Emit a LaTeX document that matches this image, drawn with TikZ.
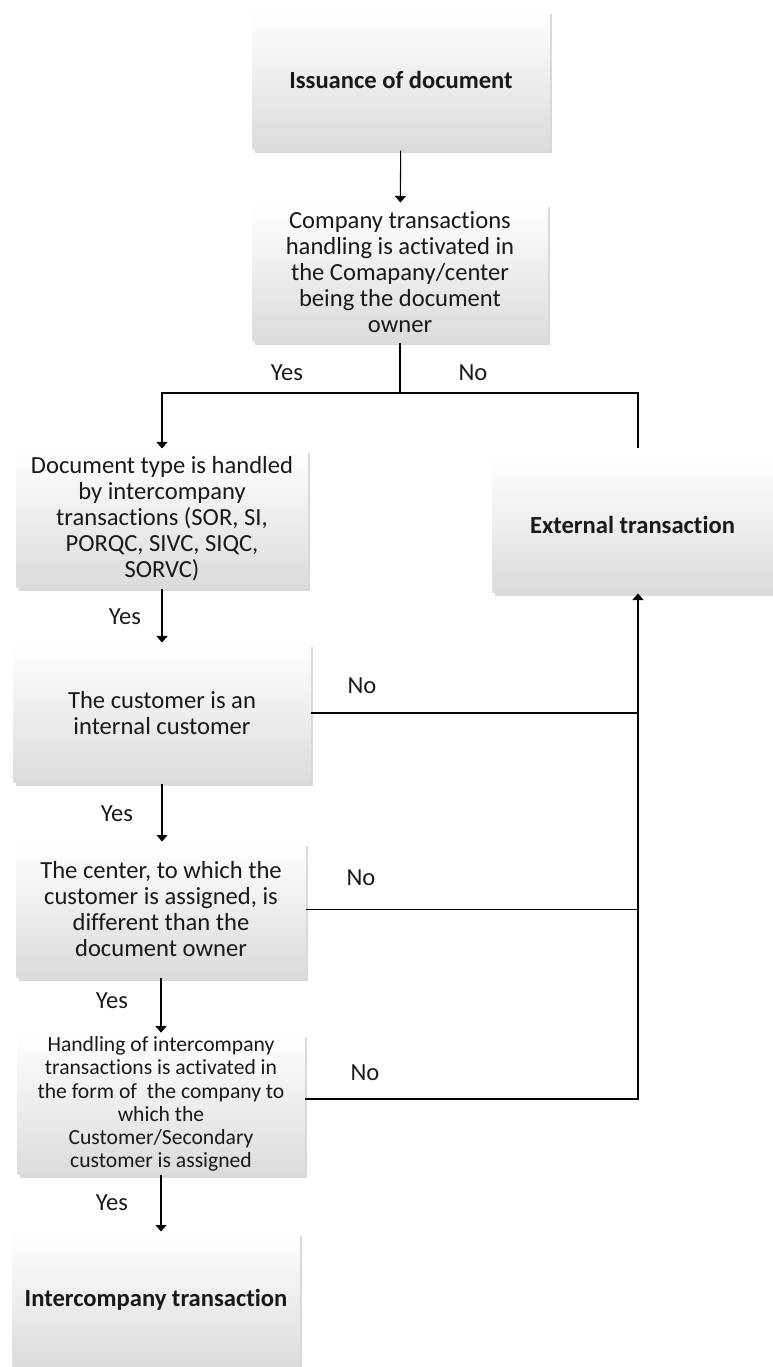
\documentclass[tikz,border=0pt]{standalone}
\usepackage{fontspec}
\setmainfont{Carlito}[Ligatures=NoCommon]
\usetikzlibrary{arrows.meta,shadows}
\begin{document}
\begin{tikzpicture}[x=0.02cm,y=-0.02cm,
    box/.style={top color=white, middle color=white, bottom color=black!14,
      drop shadow={shadow xshift=0.05cm, shadow yshift=-0.07cm, opacity=0.3},
      align=center, inner sep=2pt, text=black!90,
      font=\fontsize{14}{14.8}\selectfont},
    smallbox/.style={box, font=\fontsize{12.3}{13.2}\selectfont},
    lbl/.style={text=black!90, font=\fontsize{14}{14.8}\selectfont},
    arr/.style={-{Triangle[width=0.22cm,length=0.13cm]}},
    line width=0.6pt]
  \useasboundingbox (0,0) rectangle (773,1367);
  % top column
  \node[box, minimum width=5.94cm, minimum height=2.8cm] (issue) at (401,80)
    {\textbf{Issuance of document}};
  \node[box, minimum width=5.9cm, minimum height=2.78cm] (ownerchk) at (400,272.5)
    {Company transactions\\handling is activated in\\the Comapany/center\\being the document\\owner};
  % right side
  \node[box, minimum width=5.62cm, minimum height=2.72cm] (external) at (632.5,525)
    {\textbf{External transaction}};
  % left column
  \node[box, minimum width=5.82cm, minimum height=2.78cm] (typechk) at (162,518.5)
    {Document type is handled\\by intercompany\\transactions (SOR, SI,\\PORQC, SIVC, SIQC,\\SORVC)};
  \node[box, minimum width=5.94cm, minimum height=2.8cm] (custchk) at (162,713)
    {The customer is an\\internal customer};
  \node[box, minimum width=5.78cm, minimum height=2.7cm] (centerchk) at (161,909.5)
    {The center, to which the\\customer is assigned, is\\different than the\\document owner};
  \node[smallbox, minimum width=5.74cm, minimum height=2.72cm] (formchk) at (161,1104)
    {Handling of intercompany\\transactions is activated in\\the form of \ the company to\\which the\\Customer/Secondary\\customer is assigned};
  \node[box, minimum width=5.76cm, minimum height=2.7cm] (interco) at (156,1299.5)
    {\textbf{Intercompany transaction}};

  \coordinate (split) at (400,393);
  \coordinate (extin) at (638,448);
  \coordinate (joint) at (638,1099);

  \draw[arr] (issue) -- (ownerchk);
  \draw[arr] (ownerchk.south) -- (split) -| (typechk.north);
  \draw (split) -| (extin);
  \draw[arr] (typechk.south) -- (typechk.south |- custchk.north);
  \draw[arr] (custchk.south) -- (custchk.south |- centerchk.north);
  \draw[arr] (centerchk.south) -- (centerchk.south |- formchk.north);
  \draw[arr] (formchk.south) -- (formchk.south |- interco.north);
  \draw (custchk.east) -- (custchk.east -| joint);
  \draw (centerchk.east) -- (centerchk.east -| joint);
  \draw[arr] (joint -| formchk.east) -- (joint) -- (joint |- external.south);

  \node[lbl] (yes1) at (287,373) {Yes};
  \node[lbl] (no1) at (473,373) {No};
  \node[lbl] (yes2) at (125,617) {Yes};
  \node[lbl] (no2) at (362,686) {No};
  \node[lbl] (yes3) at (117,814) {Yes};
  \node[lbl] (no3) at (361,878) {No};
  \node[lbl] (yes4) at (112,1001) {Yes};
  \node[lbl] (no4) at (365,1073) {No};
  \node[lbl] (yes5) at (112,1203) {Yes};
\end{tikzpicture}
\end{document}
